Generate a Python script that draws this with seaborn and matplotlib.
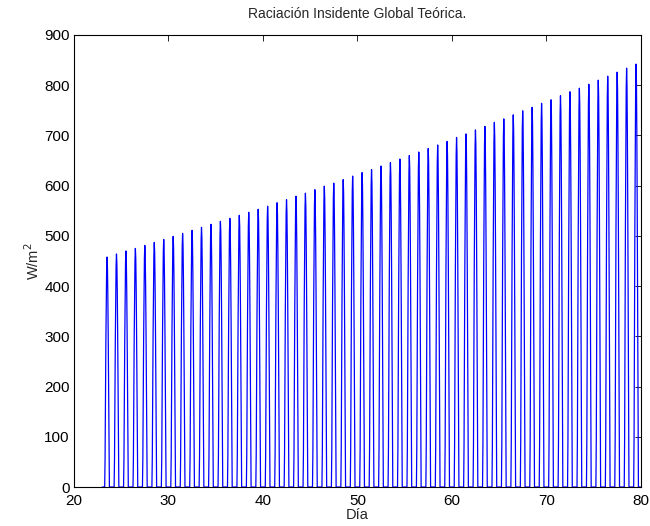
import matplotlib
matplotlib.use("Agg")
import matplotlib.pyplot as plt
import seaborn as sns
import numpy as np
import pandas as pd

# Day numbers and peak irradiance (W/m^2)
days = list(range(23, 80))
peaks = [458, 464, 470, 475, 481, 487, 493, 499, 505, 511,
         517, 523, 529, 535, 541, 547, 553, 559, 566, 572,
         579, 585, 592, 599, 605, 612, 619, 626, 632, 639,
         646, 653, 660, 667, 674, 681, 688, 696, 703, 711,
         718, 726, 733, 741, 749, 756, 764, 771, 779, 787,
         794, 802, 810, 818, 826, 834, 842]

# Normalised daily profile, one value per hour (0..23)
hours = list(range(24))
profile = [0, 0, 0, 0, 0, 0, 0.0, 0.12, 0.38, 0.62, 0.81, 0.95,
           1.0, 0.96, 0.84, 0.66, 0.42, 0.16, 0.0, 0, 0, 0, 0, 0]

# Build the hourly series
x = [d + h / 24 for d in days for h in hours]
y = [p * v for p in peaks for v in profile]
df = pd.DataFrame({"Día": x, "W": y})

sns.set_style("white")
plt.rcParams['font.family'] = ['Liberation Sans', 'DejaVu Sans']

fig = plt.figure(figsize=(6.5, 5.26), dpi=100)
ax = fig.add_axes([0.1138, 0.0741, 0.872, 0.8594])

sns.lineplot(data=df, x="Día", y="W", ax=ax, color="#0000ff",
             linewidth=0.9, estimator=None, sort=False)

ax.set_xlim(20, 80)
ax.set_ylim(0, 900)
ax.set_xticks(range(20, 81, 10))
ax.set_yticks(range(0, 901, 100))
ax.tick_params(direction="in", top=True, right=True, length=4,
               width=0.6, labelsize=11, colors="black")
ax.tick_params(axis="x", pad=5)
ax.tick_params(axis="y", pad=3)
for s in ax.spines.values():
    s.set_color("black")
    s.set_linewidth(0.8)

ax.set_xlabel("Día", fontsize=10.5, labelpad=0)
ax.set_ylabel("W/m$^2$", fontsize=10.5, labelpad=2)
ax.set_title("Raciación Insidente Global Teórica.", fontsize=10, pad=12)

plt.savefig("out.png", dpi=100)
plt.close()
